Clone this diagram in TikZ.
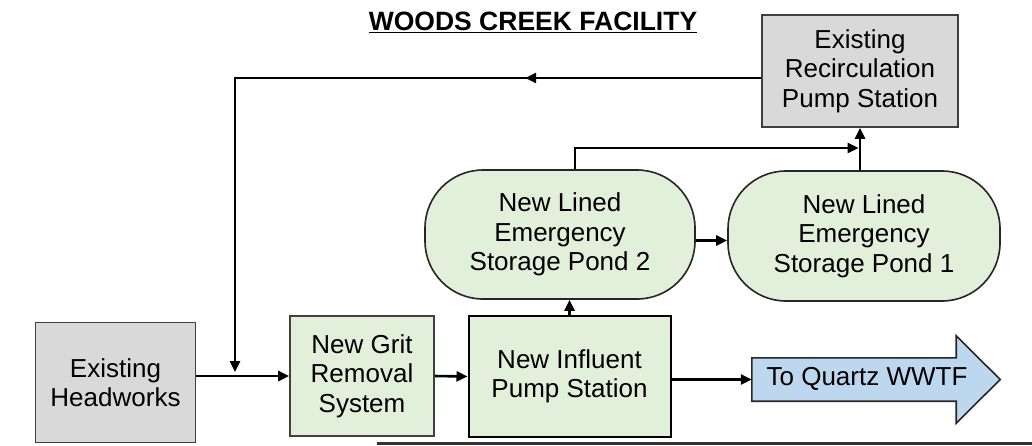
\documentclass[tikz,border=0pt]{standalone}
\usepackage{fontspec}
\setmainfont{Liberation Sans}
\usetikzlibrary{arrows.meta,decorations.markings}
\definecolor{boxgray}{HTML}{D9D9D9}
\definecolor{boxgreen}{HTML}{E2EFDA}
\definecolor{boxblue}{HTML}{BDD7EE}
\definecolor{edgegray}{HTML}{404040}
\tikzset{
  txt/.style={font=\fontsize{26}{29.5}\selectfont, align=center, text=black},
  graybox/.style={txt, draw=edgegray, line width=1.6pt, fill=boxgray, inner sep=0pt},
  greenbox/.style={txt, draw=edgegray, line width=1.6pt, fill=boxgreen, inner sep=0pt},
  pond/.style={txt, draw=black!85, line width=1.6pt, fill=boxgreen, inner sep=0pt, rounded corners=58pt},
  flow/.style={line width=2.6pt, -{Triangle[length=11pt,width=10pt]}},
}
\begin{document}
\begin{tikzpicture}[x=1pt,y=-1pt]
\useasboundingbox (0,0) rectangle (1032,445);
\fill[white] (0,0) rectangle (1032,445);

% title
\node[font=\bfseries\fontsize{26.5}{29}\selectfont, inner sep=0pt] (title) at (533,22) {\underline{WOODS CREEK FACILITY}};

% boxes
\node[graybox, minimum width=160pt, minimum height=120pt] (hw) at (115.5,382.5) {Existing\\Headworks};
\node[greenbox, minimum width=144pt, minimum height=120pt] (grit) at (362,376) {New Grit\\Removal\\System};
\node[greenbox, draw=black, line width=2pt, minimum width=202pt, minimum height=121pt] (inf) at (569.5,376.5) {New Influent\\Pump Station};
\node[graybox, minimum width=196pt, minimum height=112pt] (recirc) at (860,71) {Existing\\Recirculation\\Pump Station};
\node[pond, minimum width=270pt, minimum height=129pt] (pond2) at (560,234.5) {New Lined\\Emergency\\Storage Pond 2};
\node[pond, minimum width=272pt, minimum height=130pt] (pond1) at (864,236) {New Lined\\Emergency\\Storage Pond 1};

% output arrow
\node[minimum width=204pt, minimum height=43pt, inner sep=0pt] (quartz) at (854,379.5) {};
\draw[draw=black!85, line width=1.6pt, fill=boxblue]
  (quartz.north west) -- (quartz.north east) -- ([yshift=22pt]quartz.north east)
  -- ([xshift=44pt]quartz.east) -- ([yshift=-22pt]quartz.south east)
  -- (quartz.south east) -- (quartz.south west) -- cycle;
\node[txt, inner sep=0pt] (quartztxt) at (867,379) {To Quartz WWTF};

% connectors
\draw[flow] (hw.east |- grit.west) -- (grit.west);
\draw[flow] (grit.east) -- (inf.west);
\draw[flow] (inf.east |- quartz.west) -- (quartz.west);
\draw[flow] (inf.north) -- (inf.north |- pond2.south);
\draw[flow] ([yshift=-6pt]pond2.east) -- ([yshift=-6pt]pond2.east -| pond1.west);
\coordinate (j) at (858.5,148);
\draw[flow] ([xshift=15pt]pond2.north) |- (j);
\draw[flow] (recirc.south |- pond1.north) -- (recirc.south);
\coordinate (c1) at (235,78);
\coordinate (e1) at (235,372);
\draw[flow, postaction={decorate}, decoration={markings,
  mark=at position 236pt with {\arrow{Triangle[length=11pt,width=10pt]}}}]
  (recirc.west |- c1) -- (c1) -- (e1);

% bottom edge line
\draw[line width=3pt, black!80] (377,443.5) -- (1032,443.5);
\end{tikzpicture}
\end{document}
